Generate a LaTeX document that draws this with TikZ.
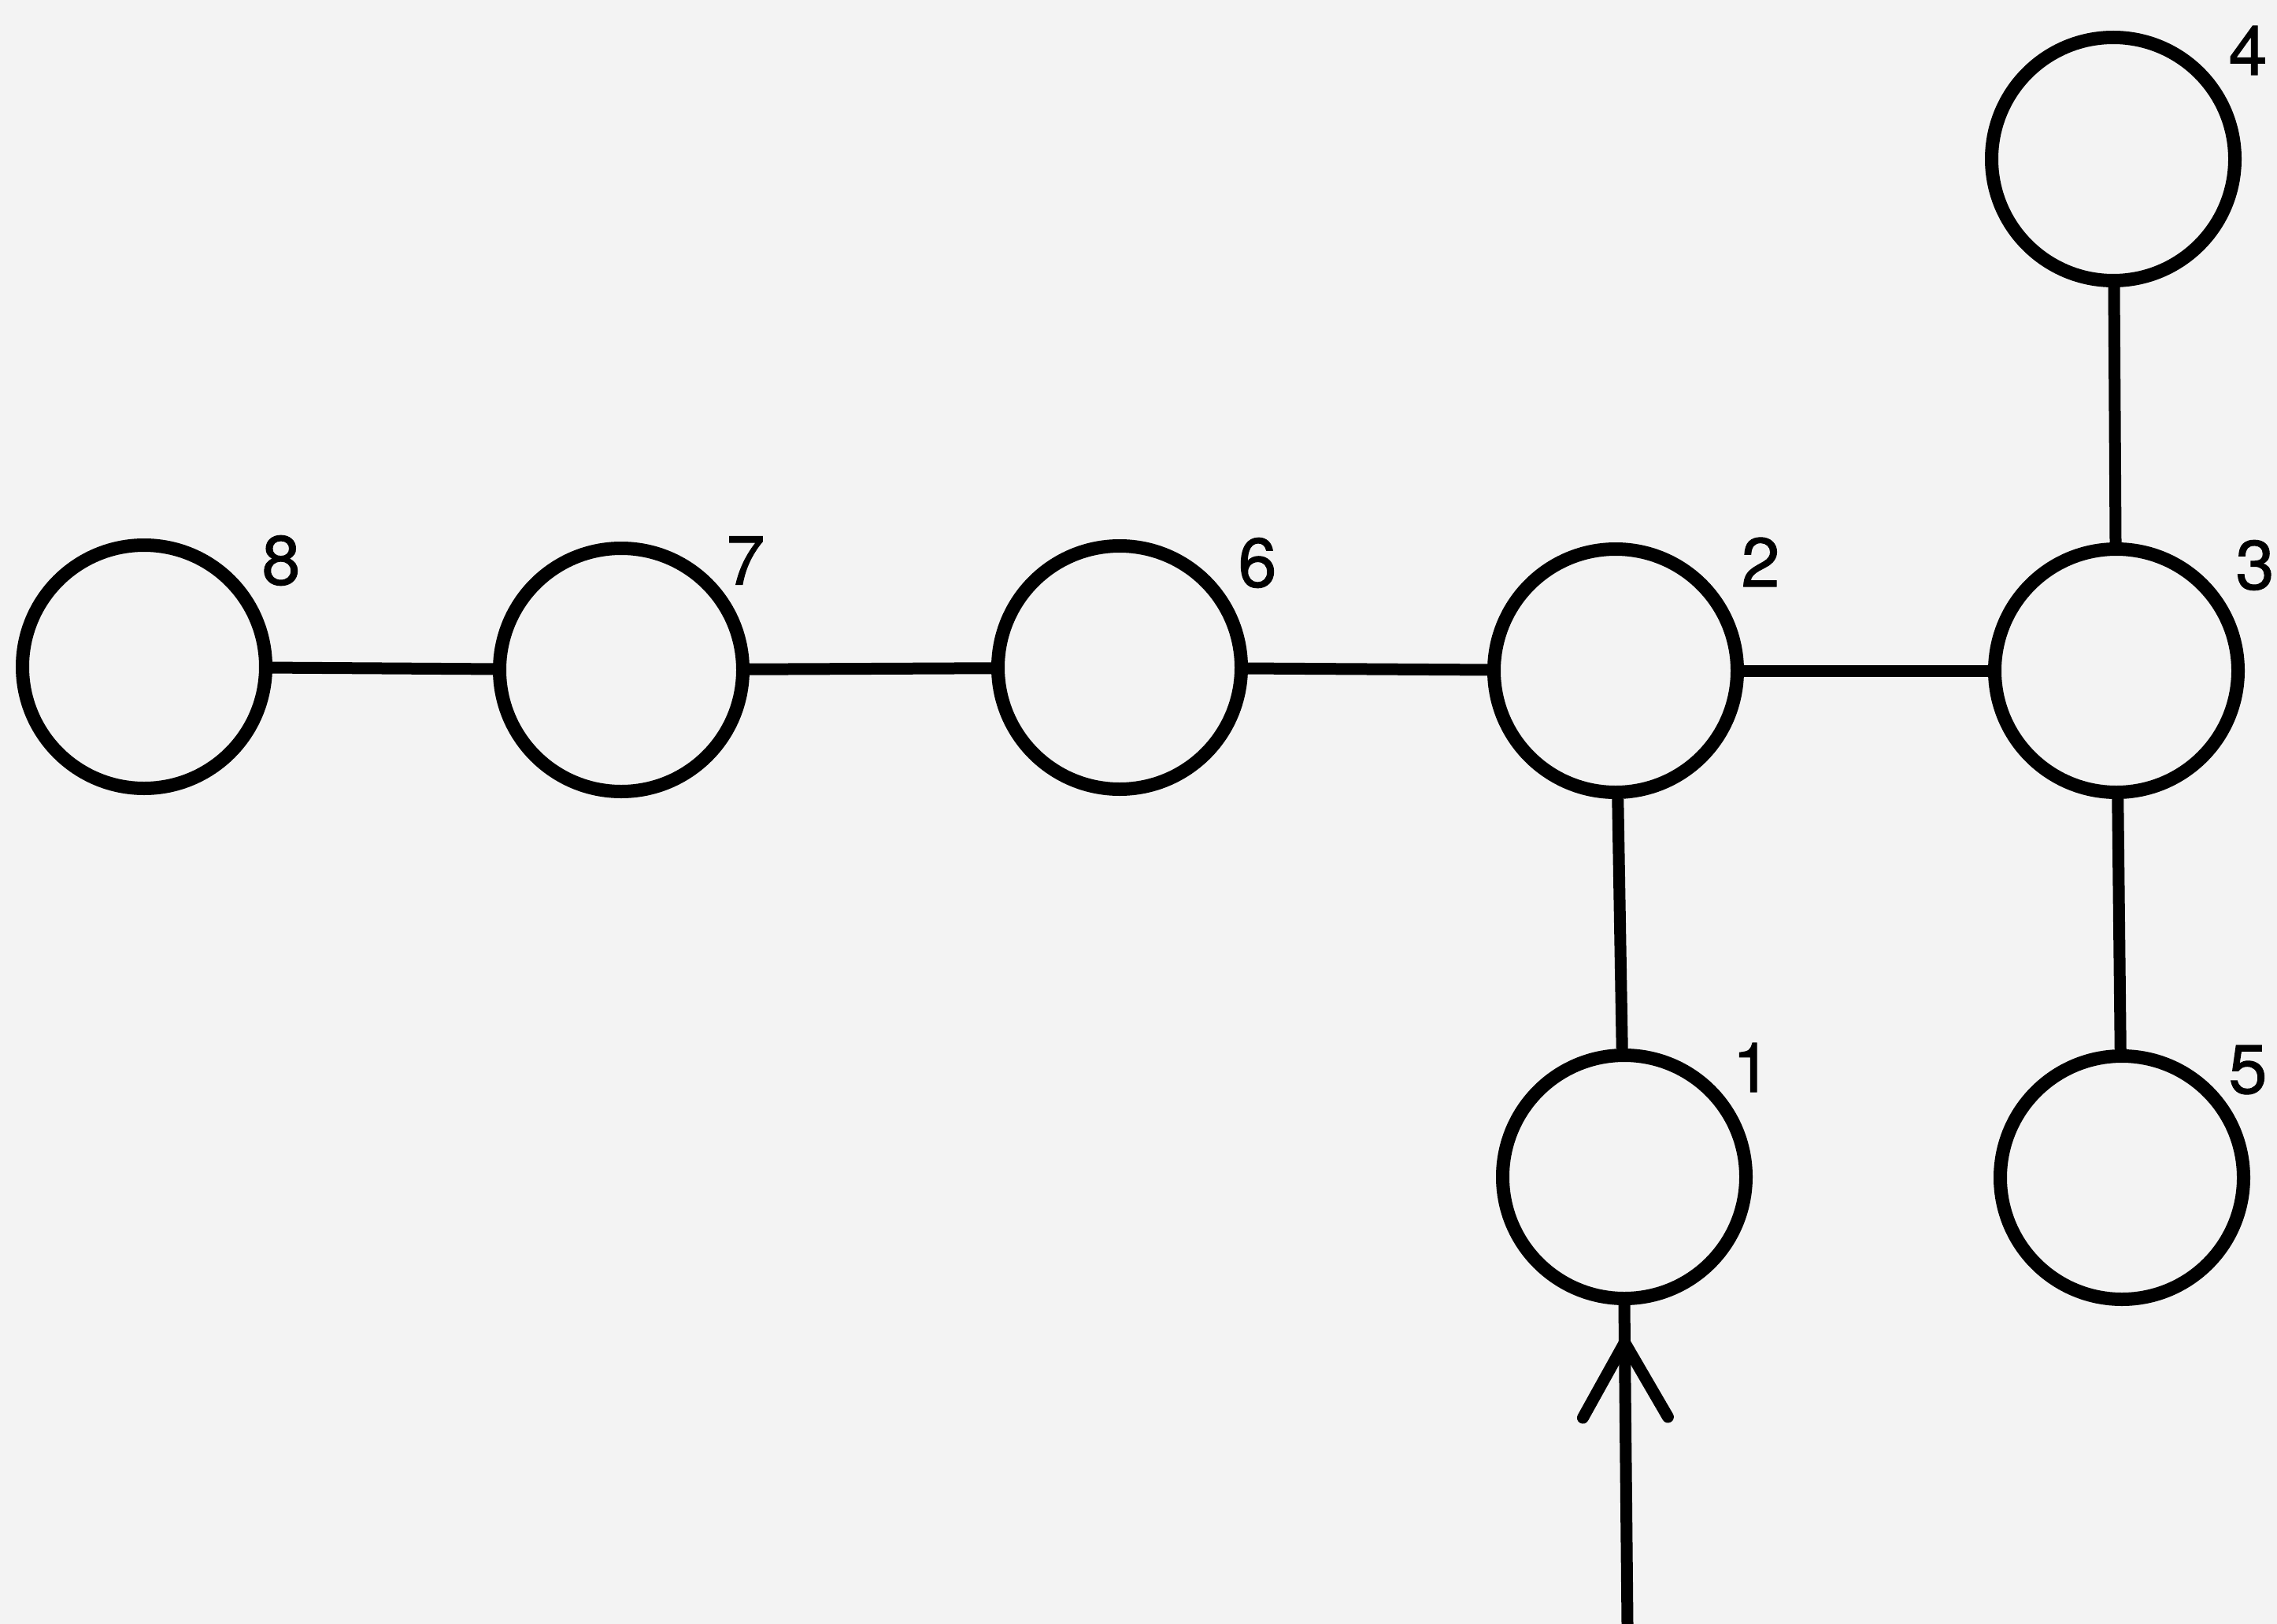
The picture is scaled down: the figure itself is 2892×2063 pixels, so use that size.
\documentclass[tikz,border=0pt]{standalone}
\usepackage{fontspec}
\newfontfamily\lblfont[FakeBold=1.2]{TeX Gyre Heros}
\usetikzlibrary{arrows.meta,decorations.markings}
\definecolor{bg}{RGB}{243,243,243}
\tikzset{
  vert/.style={circle, draw=black, line width=17pt, minimum size=309pt, inner sep=0pt},
  lbl/.style={inner sep=0pt, font=\lblfont\fontsize{88}{88}\selectfont},
  edge/.style={line width=15pt},
}
\begin{document}
\begin{tikzpicture}[x=1pt,y=-1pt]
\fill[bg] (0,0) rectangle (2892,2063);
\useasboundingbox (0,0) rectangle (2892,2063);
\node[vert] (n8) at (183,847) {};
\node[vert] (n7) at (789,851) {};
\node[vert] (n6) at (1422,848) {};
\node[vert] (n2) at (2052,852) {};
\node[vert] (n3) at (2688,852) {};
\node[vert] (n4) at (2684,202) {};
\node[vert] (n1) at (2063,1495) {};
\node[vert] (n5) at (2695,1496) {};
\node[lbl] (l8) at (357,712) {8};
\node[lbl] (l7) at (947,712) {7};
\node[lbl] (l6) at (1597,715) {6};
\node[lbl] (l2) at (2236,714) {2};
\node[lbl] (l3) at (2864,718) {3};
\node[lbl] (l4) at (2855,64) {4};
\node[lbl] (l1) at (2225,1356) {1};
\node[lbl] (l5) at (2855,1359) {5};
\draw[edge] (n8) -- (n7);
\draw[edge] (n7) -- (n6);
\draw[edge] (n6) -- (n2);
\draw[edge] (n2) -- (n3);
\draw[edge] (n3) -- (n4);
\draw[edge] (n3) -- (n5);
\draw[edge] (n2) -- (n1);
\coordinate (in) at (2067,2063);
\draw[line width=15pt, postaction={decorate}, decoration={markings, mark=at position -40pt with {\arrow{Straight Barb[length=95pt,width=108pt,line width=15pt,round]}}}] (in) -- (n1.south);
\end{tikzpicture}
\end{document}
